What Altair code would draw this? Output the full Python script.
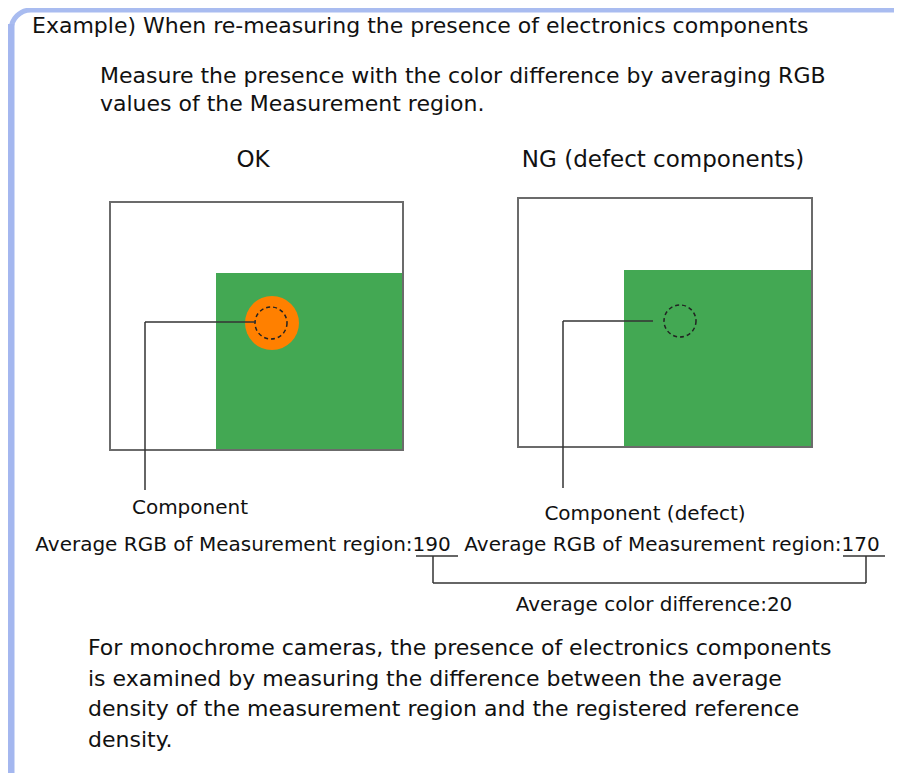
import altair as alt
import pandas as pd

FONT = "DejaVu Sans"

# ---- layout data (pixel coordinates of the diagram) ----
# the rounded frame runs past the right and bottom edges, where it is cut off
frame = pd.DataFrame({"x": [11], "x2": [930], "y": [10], "y2": [820]})
frame_left = pd.DataFrame({"x": [11], "y": [24], "y2": [773]})

boxes = pd.DataFrame({"x": [110, 518], "x2": [403, 812], "y": [202, 198], "y2": [450, 447]})
greens = pd.DataFrame({"x": [216, 624], "x2": [403, 812], "y": [273, 270], "y2": [450, 447]})

component = pd.DataFrame({"x": [272], "y": [323]})
outlines = pd.DataFrame({"x": [271, 680], "y": [323, 321]})

leaders = pd.DataFrame({
    "x":  [145, 145, 563, 563, 416, 843, 433, 866, 433],
    "x2": [256, 145, 653, 563, 458, 885, 433, 866, 866],
    "y":  [322, 322, 321, 321, 556, 556, 556, 556, 583],
    "y2": [322, 490, 321, 488, 556, 556, 583, 583, 583],
})

left_texts = pd.DataFrame({
    "text": [
        "Example) When re-measuring the presence of electronics components",
        "Measure the presence with the color difference by averaging RGB",
        "values of the Measurement region.",
        "For monochrome cameras, the presence of electronics components",
        "is examined by measuring the difference between the average",
        "density of the measurement region and the registered reference",
        "density.",
    ],
    "x": [32, 100, 100, 88, 88, 88, 88],
    "y": [26, 76, 104, 648, 679, 709, 740],
})

title_texts = pd.DataFrame({
    "text": ["OK", "NG (defect components)"],
    "x": [253, 663],
    "y": [160, 160],
})

center_texts = pd.DataFrame({
    "text": ["Component", "Component (defect)",
             "Average RGB of Measurement region:190",
             "Average RGB of Measurement region:170",
             "Average color difference:20"],
    "x": [190, 645, 243, 672, 654],
    "y": [508, 514, 545, 545, 605],
})

xs = alt.Scale(domain=[8, 894], range=[0, 886])
ys = alt.Scale(domain=[8, 773], range=[0, 765])

def X(f="x"):
    return alt.X(f"{f}:Q", scale=xs, axis=None)

def Y(f="y"):
    return alt.Y(f"{f}:Q", scale=ys, axis=None)

frame_l = alt.Chart(frame).mark_rect(filled=False, stroke="#a9bcf0", strokeWidth=5, cornerRadius=20,
                                     clip=True).encode(
    x=X(), x2="x2:Q", y=Y(), y2="y2:Q")
frame_left_l = alt.Chart(frame_left).mark_rule(color="#a4b7ef", strokeWidth=7, clip=True).encode(
    x=X(), y=Y(), y2="y2:Q")

green_l = alt.Chart(greens).mark_rect(color="#43a853").encode(x=X(), x2="x2:Q", y=Y(), y2="y2:Q")
box_l = alt.Chart(boxes).mark_rect(filled=False, stroke="#6b6b6b", strokeWidth=2).encode(
    x=X(), x2="x2:Q", y=Y(), y2="y2:Q")

comp_l = alt.Chart(component).mark_point(shape="circle", filled=True, color="#ff8000", opacity=1, size=2916).encode(
    x=X(), y=Y())
dash_l = alt.Chart(outlines).mark_point(shape="circle", filled=False, stroke="#222222", strokeWidth=1.5,
                                         strokeDash=[4, 3], opacity=1, size=1024).encode(x=X(), y=Y())

lead_l = alt.Chart(leaders).mark_rule(color="#333333", strokeWidth=1.5).encode(
    x=X(), x2="x2:Q", y=Y(), y2="y2:Q")

ltext = alt.Chart(left_texts).mark_text(align="left", baseline="middle", font=FONT, fontSize=22, color="#111111").encode(
    x=X(), y=Y(), text="text:N")
ttext = alt.Chart(title_texts).mark_text(align="center", baseline="middle", font=FONT, fontSize=23, color="#111111").encode(
    x=X(), y=Y(), text="text:N")
ctext = alt.Chart(center_texts).mark_text(align="center", baseline="middle", font=FONT, fontSize=20, color="#111111").encode(
    x=X(), y=Y(), text="text:N")

chart = alt.layer(frame_l, frame_left_l, green_l, box_l, comp_l, dash_l, lead_l, ltext, ttext, ctext).properties(
    width=886, height=765, padding=0, autosize=alt.AutoSizeParams(type="none"),
    background="white",
).configure_view(stroke=None)

chart.save("out.html", embed_options={"renderer": "svg", "actions": False})
